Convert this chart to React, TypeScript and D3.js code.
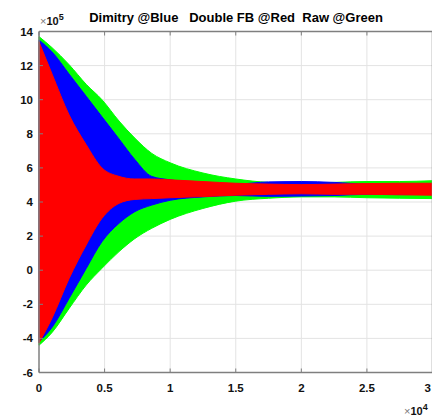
import * as d3 from 'd3'

const W = 432
const H = 416

// x in units of 1e4 samples, y in units of 1e5
const SAMPLES = [0, 0.1, 0.23, 0.36, 0.48, 0.61, 0.73, 0.86, 1.0, 1.25, 1.5, 1.75, 2.0, 2.25, 2.5, 2.75, 3.0]

const RAW_HI = [13.7, 13.05, 12.05, 10.9, 10.0, 8.75, 7.75, 6.85, 6.3, 5.7, 5.35, 5.15, 5.1, 5.15, 5.2, 5.2, 5.25]
const RAW_LO = [-4.4, -3.65, -2.24, -0.87, 0.11, 1.09, 1.85, 2.46, 2.98, 3.62, 4.05, 4.22, 4.3, 4.3, 4.25, 4.22, 4.2]

const DIMITRY_HI = [13.5, 12.8, 11.5, 10.2, 9.0, 7.7, 6.5, 5.5, 5.3, 5.1, 5.05, 5.18, 5.2, 5.15, 5.05, 5.05, 5.05]
const DIMITRY_LO = [-4.2, -3.35, -1.65, 0.1, 1.67, 2.75, 3.43, 3.82, 4.1, 4.3, 4.38, 4.33, 4.35, 4.38, 4.45, 4.45, 4.45]

const DOUBLE_HI = [13.4, 11.5, 9.1, 7.36, 6.0, 5.5, 5.35, 5.35, 5.3, 5.2, 5.1, 5.05, 5.02, 5.05, 5.08, 5.1, 5.1]
const DOUBLE_LO = [-4.27, -2.8, -0.48, 1.48, 3.04, 3.92, 4.15, 4.2, 4.25, 4.32, 4.4, 4.45, 4.48, 4.45, 4.45, 4.42, 4.4]

const SERIES = [
  { name: 'Raw', color: '#00ff00', hi: RAW_HI, lo: RAW_LO },
  { name: 'Dimitry', color: '#0000ff', hi: DIMITRY_HI, lo: DIMITRY_LO },
  { name: 'Double FB', color: '#ff0000', hi: DOUBLE_HI, lo: DOUBLE_LO }
]

const X_TICKS = [0, 0.5, 1, 1.5, 2, 2.5, 3]
const Y_TICKS = [-6, -4, -2, 0, 2, 4, 6, 8, 10, 12, 14]

const TITLE = 'Dimitry @Blue   Double FB @Red  Raw @Green'

const FONT = '"Liberation Sans", Arial, sans-serif'

export default function App() {
  const x = d3.scaleLinear().domain([0, 3]).range([39, 432.5])
  const y = d3.scaleLinear().domain([-6, 14]).range([372.5, 31.5])

  const area = d3.area<number>()
    .x((_, i) => x(SAMPLES[i]))
    .curve(d3.curveMonotoneX)

  const axisColor = '#7f7f7f'
  const gridColor = '#e3e3e3'
  const tickLen = 4

  return (
    <svg width={W} height={H} style={{ position: 'absolute', left: 0, top: 0, background: '#fff' }}>
      {/* grid */}
      {X_TICKS.slice(1).map(t => (
        <line key={`gx${t}`} x1={x(t)} x2={x(t)} y1={y(14)} y2={y(-6)} stroke={gridColor} strokeWidth={1} />
      ))}
      {Y_TICKS.slice(1, -1).map(t => (
        <line key={`gy${t}`} x1={x(0)} x2={x(3)} y1={y(t)} y2={y(t)} stroke={gridColor} strokeWidth={1} />
      ))}

      {/* envelopes */}
      {SERIES.map(s => (
        <path
          key={s.name}
          d={area.y0((_, i) => y(s.lo[i])).y1((_, i) => y(s.hi[i]))(s.hi) || ''}
          fill={s.color}
          stroke={s.color}
          strokeWidth={1}
        />
      ))}

      {/* axes box */}
      <line x1={x(0)} x2={x(3)} y1={y(14)} y2={y(14)} stroke={axisColor} strokeWidth={1.5} />
      <line x1={x(0)} x2={x(3)} y1={y(-6)} y2={y(-6)} stroke={axisColor} strokeWidth={1.5} />
      <line x1={x(0)} x2={x(0)} y1={y(14)} y2={y(-6)} stroke={axisColor} strokeWidth={1.5} />
      <line x1={x(3)} x2={x(3)} y1={y(14)} y2={y(-6)} stroke={axisColor} strokeWidth={1.5} />

      {/* ticks */}
      {X_TICKS.map(t => {
        const last = t === X_TICKS[X_TICKS.length - 1]
        return (
          <g key={`tx${t}`}>
            <line x1={x(t)} x2={x(t)} y1={y(-6)} y2={y(-6) - tickLen} stroke={axisColor} />
            <line x1={x(t)} x2={x(t)} y1={y(14)} y2={y(14) + tickLen} stroke={axisColor} />
            <text
              x={last ? W - 1 : x(t)}
              y={392}
              textAnchor={last ? 'end' : 'middle'}
              fontFamily={FONT}
              fontSize={11.5}
              fontWeight="bold"
              fill="#111"
            >
              {String(t)}
            </text>
          </g>
        )
      })}
      {Y_TICKS.map(t => (
        <g key={`ty${t}`}>
          <line x1={x(0)} x2={x(0) + tickLen} y1={y(t)} y2={y(t)} stroke={axisColor} />
          <text x={33} y={y(t) + 4} textAnchor="end" fontFamily={FONT} fontSize={11.5} fontWeight="bold" fill="#111">
            {String(t)}
          </text>
        </g>
      ))}

      {/* exponent labels */}
      <text x={40} y={25} fontFamily={FONT} fontSize={11} fontWeight="bold" fill="#111">
        <tspan fill="#777" fontWeight="normal">×</tspan>
        <tspan>10</tspan>
        <tspan dy={-5} fontSize={9}>5</tspan>
      </text>
      <text x={404} y={415} fontFamily={FONT} fontSize={11} fontWeight="bold" fill="#111">
        <tspan fill="#777" fontWeight="normal">×</tspan>
        <tspan>10</tspan>
        <tspan dy={-5} fontSize={9}>4</tspan>
      </text>

      {/* title */}
      <text x={236} y={22} textAnchor="middle" fontFamily={FONT} fontSize={13} fontWeight="bold" fill="#000" style={{ whiteSpace: 'pre' }}>
        {TITLE}
      </text>
    </svg>
  )
}
